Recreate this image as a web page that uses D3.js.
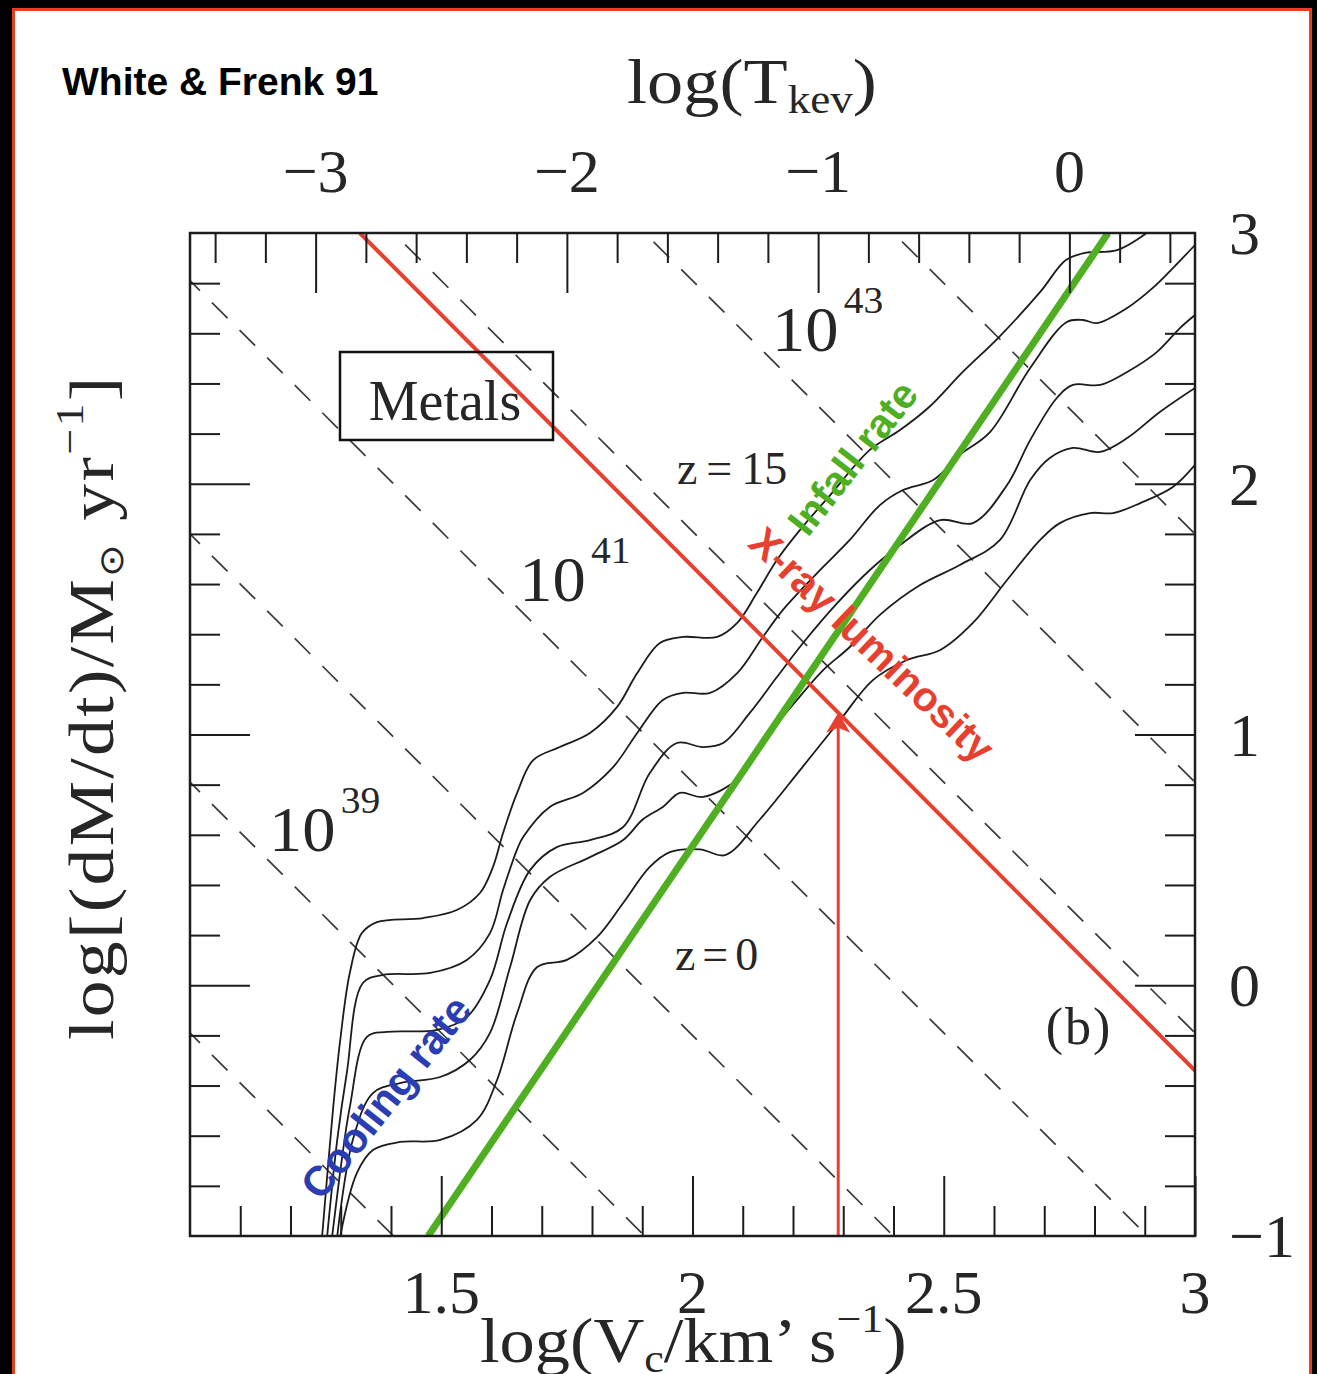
<!DOCTYPE html>
<html>
<head>
<meta charset="utf-8">
<title>Cooling and infall rates (metals)</title>
<script src="https://cdn.jsdelivr.net/npm/d3@7/dist/d3.min.js"></script>
<style>
  html, body { margin: 0; padding: 0; background: #000; }
  svg { display: block; }
  .serif { font-family: "Liberation Serif", "Times New Roman", serif; fill: #262626; }
  .bold-sans { font-family: "Liberation Sans", Arial, Helvetica, sans-serif; font-weight: bold; }
</style>
</head>
<body>
<svg id="chart" width="1317" height="1374"></svg>
<script>
// ---- axis ranges -------------------------------------------------------
// x: log circular velocity [km/s], y: log mass flow rate [Msun/yr]
const logVDomain = [1, 3];
const logMdotDomain = [-1, 3];
// top axis: log T[keV] = 2 log Vc - 5.5
const logTDomain = [-3.5, 0.5];

// ---- ticks -------------------------------------------------------------
const bottomMajorTicks = [1.5, 2, 2.5, 3];
const bottomMinorTicks = [1.1, 1.2, 1.3, 1.4, 1.6, 1.7, 1.8, 1.9, 2.1, 2.2, 2.3, 2.4, 2.6, 2.7, 2.8, 2.9];
const bottomTickLabels = ["1.5", "2", "2.5", "3"];
const topMajorTicks = [-3, -2, -1, 0];
const topMinorTicks = [-3.4, -3.2, -2.8, -2.6, -2.4, -2.2, -1.8, -1.6, -1.4, -1.2, -0.8, -0.6, -0.4, -0.2, 0.2, 0.4];
const topTickLabels = ["\u22123", "\u22122", "\u22121", "0"];
const sideMajorTicks = [0, 1, 2];
const sideMinorTicks = [-0.8, -0.6, -0.4, -0.2, 0.2, 0.4, 0.6, 0.8, 1.2, 1.4, 1.6, 1.8, 2.2, 2.4, 2.6, 2.8];
const rightTickValues = [3, 2, 1, 0, -1];
const rightTickLabels = ["3", "2", "1", "0", "\u22121"];

// ---- cooling rate curves [log Vc, log dM/dt], z = 15 (top) ... z = 0 (bottom)
const coolingZ15 = [
  [1.263, -1.0], [1.285, -0.486], [1.299, -0.218], [1.318, 0.049], [1.342, 0.208],
  [1.372, 0.252], [1.464, 0.268], [1.531, 0.300], [1.577, 0.368], [1.603, 0.472],
  [1.623, 0.607], [1.651, 0.767], [1.683, 0.898], [1.736, 0.950], [1.796, 1.006],
  [1.850, 1.110], [1.890, 1.245], [1.935, 1.365], [1.981, 1.389], [2.049, 1.389],
  [2.089, 1.445], [2.128, 1.564], [2.168, 1.696], [2.214, 1.816], [2.274, 1.955],
  [2.353, 2.135], [2.413, 2.214], [2.471, 2.306], [2.536, 2.442], [2.610, 2.585],
  [2.692, 2.765], [2.743, 2.892], [2.779, 2.920], [2.845, 2.932], [2.904, 3.0]
];
const coolingCurve2 = [
  [1.273, -1.0], [1.293, -0.617], [1.312, -0.350], [1.344, 0.009], [1.384, 0.041],
  [1.478, 0.049], [1.551, 0.101], [1.597, 0.208], [1.623, 0.380], [1.651, 0.542],
  [1.663, 0.591], [1.716, 0.711], [1.782, 0.767], [1.842, 0.870], [1.890, 1.006],
  [1.941, 1.138], [1.981, 1.166], [2.035, 1.166], [2.089, 1.245], [2.140, 1.389],
  [2.180, 1.497], [2.248, 1.644], [2.313, 1.776], [2.373, 1.915], [2.419, 1.975],
  [2.479, 2.015], [2.532, 2.115], [2.592, 2.206], [2.672, 2.462], [2.745, 2.645],
  [2.777, 2.653], [2.805, 2.641], [2.865, 2.701], [2.916, 2.781], [2.956, 2.860],
  [3.0, 2.952]
];
const coolingCurve3 = [
  [1.283, -1.0], [1.302, -0.697], [1.318, -0.486], [1.352, -0.206], [1.392, -0.186],
  [1.492, -0.178], [1.551, -0.127], [1.597, 0.021], [1.631, 0.248], [1.677, 0.460],
  [1.730, 0.551], [1.796, 0.579], [1.862, 0.631], [1.915, 0.846], [1.969, 0.966],
  [2.021, 0.950], [2.061, 0.966], [2.114, 1.086], [2.168, 1.229], [2.220, 1.365],
  [2.288, 1.524], [2.353, 1.656], [2.413, 1.756], [2.493, 1.855], [2.558, 1.843],
  [2.626, 1.995], [2.672, 2.174], [2.725, 2.342], [2.757, 2.394], [2.811, 2.394],
  [2.865, 2.446], [2.924, 2.525], [2.970, 2.621], [3.0, 2.673]
];
const coolingCurve4 = [
  [1.293, -1.0], [1.324, -0.617], [1.364, -0.430], [1.418, -0.390], [1.498, -0.366],
  [1.557, -0.298], [1.597, -0.190], [1.637, 0.073], [1.677, 0.340], [1.716, 0.432],
  [1.796, 0.511], [1.862, 0.579], [1.901, 0.661], [1.941, 0.711], [1.975, 0.767],
  [2.021, 0.751], [2.095, 0.830], [2.148, 0.990], [2.208, 1.138], [2.260, 1.257],
  [2.313, 1.349], [2.373, 1.477], [2.453, 1.596], [2.532, 1.676], [2.612, 1.776],
  [2.672, 2.015], [2.711, 2.103], [2.757, 2.143], [2.811, 2.127], [2.865, 2.182],
  [2.930, 2.286], [3.0, 2.382]
];
const coolingZ0 = [
  [1.299, -1.0], [1.332, -0.749], [1.364, -0.657], [1.418, -0.625], [1.498, -0.617],
  [1.571, -0.537], [1.611, -0.378], [1.651, -0.111], [1.691, 0.073], [1.750, 0.101],
  [1.810, 0.192], [1.862, 0.328], [1.915, 0.472], [1.955, 0.531], [2.015, 0.542],
  [2.065, 0.519], [2.134, 0.661], [2.214, 0.858], [2.294, 1.058], [2.359, 1.217],
  [2.427, 1.297], [2.493, 1.337], [2.558, 1.445], [2.626, 1.616], [2.692, 1.776],
  [2.731, 1.843], [2.791, 1.883], [2.837, 1.883], [2.891, 1.923], [2.956, 1.987],
  [3.0, 2.075]
];
const coolingCurves = [coolingZ15, coolingCurve2, coolingCurve3, coolingCurve4, coolingZ0];

// ---- constant X-ray luminosity lines: log dM/dt = intercept - 2 log Vc
const lumExponents = [38, 39, 40, 41, 42, 43, 44];
const lumIntercepts = [1.81, 2.81, 3.80, 4.81, 5.81, 6.81, 7.80];
const lumSlope = -2;

// ---- highlighted relations -----------------------------------------------
const infallLine = [[1.474, -1.0], [2.827, 3.0]];      // infall rate ~ Vc^3
const xrayLine = [[1.338, 3.0], [3.0, -0.34]];         // X-ray luminosity
const arrowLogV = 2.29;
const arrowFrom = -1.0;
const arrowTo = 1.087;

// ---- scales ---------------------------------------------------------------
const plot = { left: 190, right: 1195, top: 233, bottom: 1236 };
const x = d3.scaleLinear().domain(logVDomain).range([plot.left, plot.right]);
const y = d3.scaleLinear().domain(logMdotDomain).range([plot.bottom, plot.top]);
const xT = d3.scaleLinear().domain(logTDomain).range([plot.left, plot.right]);

const RED = "#e8402f", GREEN = "#4fae21", BLUE = "#2b3db3", INK = "#1c1c1c";

const svg = d3.select("#chart");

// white sheet with an orange-red rim on a black ground
svg.append("rect").attr("width", 1317).attr("height", 1374).attr("fill", "#000");
svg.append("rect").attr("x", 13.5).attr("y", 9.5).attr("width", 1297).attr("height", 1380)
  .attr("fill", "#fff").attr("stroke", "#e5401e").attr("stroke-width", 3);

svg.append("defs").append("clipPath").attr("id", "plotClip")
  .append("rect").attr("x", plot.left).attr("y", plot.top)
  .attr("width", plot.right - plot.left).attr("height", plot.bottom - plot.top);

const inner = svg.append("g").attr("clip-path", "url(#plotClip)");

// dashed iso-luminosity lines
inner.append("g").selectAll("line").data(lumIntercepts).join("line")
  .attr("x1", x(logVDomain[0])).attr("y1", c => y(c + lumSlope * logVDomain[0]))
  .attr("x2", x(logVDomain[1])).attr("y2", c => y(c + lumSlope * logVDomain[1]))
  .attr("stroke", "#3a3a3a").attr("stroke-width", 1.7)
  .attr("stroke-dasharray", "22 17").attr("stroke-dashoffset", 8);

// cooling-rate curves
const line = d3.line().x(d => x(d[0])).y(d => y(d[1])).curve(d3.curveCatmullRom.alpha(0.5));
inner.append("g").selectAll("path").data(coolingCurves).join("path")
  .attr("d", line).attr("fill", "none").attr("stroke", INK).attr("stroke-width", 1.8);

// X-ray luminosity line and arrow
inner.append("path").datum(xrayLine).attr("d", d3.line().x(d => x(d[0])).y(d => y(d[1])))
  .attr("stroke", RED).attr("stroke-width", 4).attr("fill", "none");
inner.append("line")
  .attr("x1", x(arrowLogV)).attr("y1", y(arrowFrom))
  .attr("x2", x(arrowLogV)).attr("y2", y(arrowTo) + 14)
  .attr("stroke", RED).attr("stroke-width", 3);
inner.append("path")
  .attr("d", `M${x(arrowLogV)},${y(arrowTo)} l-12,20 l12,-5 l12,5 z`)
  .attr("fill", RED);

// infall line
inner.append("path").datum(infallLine).attr("d", d3.line().x(d => x(d[0])).y(d => y(d[1])))
  .attr("stroke", GREEN).attr("stroke-width", 7).attr("fill", "none");

// ---- frame and ticks -----------------------------------------------------
const minorLen = 30, majorLen = 60;
function styleAxis(g) {
  g.select(".domain").remove();
  g.selectAll(".tick line").attr("stroke", INK).attr("stroke-width", 2);
  g.selectAll(".tick text").remove();
}
svg.append("g").attr("transform", `translate(0,${plot.bottom})`)
  .call(d3.axisBottom(x).tickValues(bottomMinorTicks).tickSizeInner(-minorLen).tickSizeOuter(0)).call(styleAxis);
svg.append("g").attr("transform", `translate(0,${plot.bottom})`)
  .call(d3.axisBottom(x).tickValues(bottomMajorTicks).tickSizeInner(-majorLen).tickSizeOuter(0)).call(styleAxis);
svg.append("g").attr("transform", `translate(0,${plot.top})`)
  .call(d3.axisTop(xT).tickValues(topMinorTicks).tickSizeInner(-minorLen).tickSizeOuter(0)).call(styleAxis);
svg.append("g").attr("transform", `translate(0,${plot.top})`)
  .call(d3.axisTop(xT).tickValues(topMajorTicks).tickSizeInner(-majorLen).tickSizeOuter(0)).call(styleAxis);
svg.append("g").attr("transform", `translate(${plot.left},0)`)
  .call(d3.axisLeft(y).tickValues(sideMinorTicks).tickSizeInner(-minorLen).tickSizeOuter(0)).call(styleAxis);
svg.append("g").attr("transform", `translate(${plot.left},0)`)
  .call(d3.axisLeft(y).tickValues(sideMajorTicks).tickSizeInner(-majorLen).tickSizeOuter(0)).call(styleAxis);
svg.append("g").attr("transform", `translate(${plot.right},0)`)
  .call(d3.axisRight(y).tickValues(sideMinorTicks).tickSizeInner(-minorLen).tickSizeOuter(0)).call(styleAxis);
svg.append("g").attr("transform", `translate(${plot.right},0)`)
  .call(d3.axisRight(y).tickValues(sideMajorTicks).tickSizeInner(-majorLen).tickSizeOuter(0)).call(styleAxis);

svg.append("rect").attr("x", plot.left).attr("y", plot.top)
  .attr("width", plot.right - plot.left).attr("height", plot.bottom - plot.top)
  .attr("fill", "none").attr("stroke", INK).attr("stroke-width", 2.5);

// ---- tick labels -----------------------------------------------------------
const tickFont = 62;
svg.append("g").attr("class", "serif").attr("font-size", tickFont).attr("text-anchor", "middle")
  .selectAll("text").data(bottomMajorTicks).join("text")
  .attr("x", d => x(d)).attr("y", 1313).text((d, i) => bottomTickLabels[i]);
svg.append("g").attr("class", "serif").attr("font-size", tickFont).attr("text-anchor", "middle")
  .selectAll("text").data(topMajorTicks).join("text")
  .attr("x", d => xT(d)).attr("y", 192).text((d, i) => topTickLabels[i]);
svg.append("g").attr("class", "serif").attr("font-size", tickFont).attr("text-anchor", "start")
  .selectAll("text").data(rightTickValues).join("text")
  .attr("x", 1229).attr("y", d => y(d) + 21).text((d, i) => rightTickLabels[i]);

// ---- axis titles -----------------------------------------------------------
const topTitle = svg.append("text").attr("class", "serif").attr("font-size", 64)
  .attr("transform", "translate(627,103) scale(1.13,1)");
topTitle.append("tspan").text("log(T");
topTitle.append("tspan").attr("font-size", 40).attr("dy", 10).text("kev");
topTitle.append("tspan").attr("dy", -10).text(")");

const bottomTitle = svg.append("text").attr("class", "serif").attr("font-size", 64)
  .attr("transform", "translate(480,1362) scale(1.1,1)");
bottomTitle.append("tspan").text("log(V");
bottomTitle.append("tspan").attr("font-size", 40).attr("dy", 10).text("c");
bottomTitle.append("tspan").attr("dy", -10).text("/km\u2019 s");
bottomTitle.append("tspan").attr("font-size", 40).attr("dy", -30).text("\u22121");
bottomTitle.append("tspan").attr("dy", 30).text(")");

const leftTitle = svg.append("text").attr("class", "serif").attr("font-size", 64)
  .attr("letter-spacing", 2)
  .attr("transform", "translate(113,1040) rotate(-90) scale(1.15,1)");
leftTitle.append("tspan").text("log[(dM/dt)/M");
leftTitle.append("tspan").attr("font-size", 34).attr("dy", 10).text("\u2299");
leftTitle.append("tspan").attr("dy", -10).text(" yr");
leftTitle.append("tspan").attr("font-size", 40).attr("dy", -30).text("\u22121");
leftTitle.append("tspan").attr("dy", 30).text("]");

svg.append("text").attr("class", "bold-sans").attr("font-size", 39).attr("fill", "#000")
  .attr("x", 62).attr("y", 95).text("White & Frenk 91");

// ---- in-plot annotations ---------------------------------------------------
// "Metals" box
svg.append("rect").attr("x", x(1.2985)).attr("y", y(2.5254))
  .attr("width", x(1.7224) - x(1.2985)).attr("height", y(2.1745) - y(2.5254))
  .attr("fill", "none").attr("stroke", "#111").attr("stroke-width", 2.5);
svg.append("text").attr("class", "serif").attr("font-size", 56).attr("text-anchor", "middle")
  .attr("x", x(1.5075)).attr("y", y(2.2542)).text("Metals");

// luminosity labels (erg/s) on the 10^39, 10^41, 10^43 lines
const lumLabelLevels = [39, 41, 43];
const lumLabelAt = [[1.157, 0.535], [1.655, 1.532], [2.158, 2.529]];
lumLabelLevels.forEach((lev, i) => {
  const t = svg.append("text").attr("class", "serif").attr("font-size", 64)
    .attr("transform", `translate(${x(lumLabelAt[i][0])},${y(lumLabelAt[i][1])}) scale(1.04,1)`);
  t.append("tspan").text("10");
  t.append("tspan").attr("font-size", 38).attr("dx", 5).attr("dy", -38).text(String(lev));
});

// redshift labels and panel tag
function mathLabel(parts, gaps, at, size) {
  const t = svg.append("text").attr("class", "serif").attr("font-size", size)
    .attr("x", x(at[0])).attr("y", y(at[1]));
  parts.forEach((p, i) => t.append("tspan").attr("dx", gaps[i]).text(p));
}
mathLabel(["z", "=", "15"], [0, 9, 9], [1.969, 2.0], 46);
mathLabel(["z", "=", "0"], [0, 7, 7], [1.965, 0.061], 46);
svg.append("text").attr("class", "serif").attr("font-size", 52).attr("letter-spacing", 2)
  .attr("x", x(2.703)).attr("y", y(-0.235)).text("(b)");

// coloured relation labels
function rotatedLabel(text, at, angle, size, color) {
  svg.append("text").attr("class", "bold-sans").attr("font-size", size).attr("fill", color)
    .attr("text-anchor", "middle").attr("dominant-baseline", "central")
    .attr("transform", `translate(${x(at[0])},${y(at[1])}) rotate(${angle})`)
    .text(text);
}
rotatedLabel("Infall rate", [2.319, 2.103], -52, 41, GREEN);
rotatedLabel("X-ray luminosity", [2.357, 1.357], 43.5, 41, RED);
rotatedLabel("Cooling rate", [1.390, -0.446], -51.5, 42, BLUE);
</script>
</body>
</html>
